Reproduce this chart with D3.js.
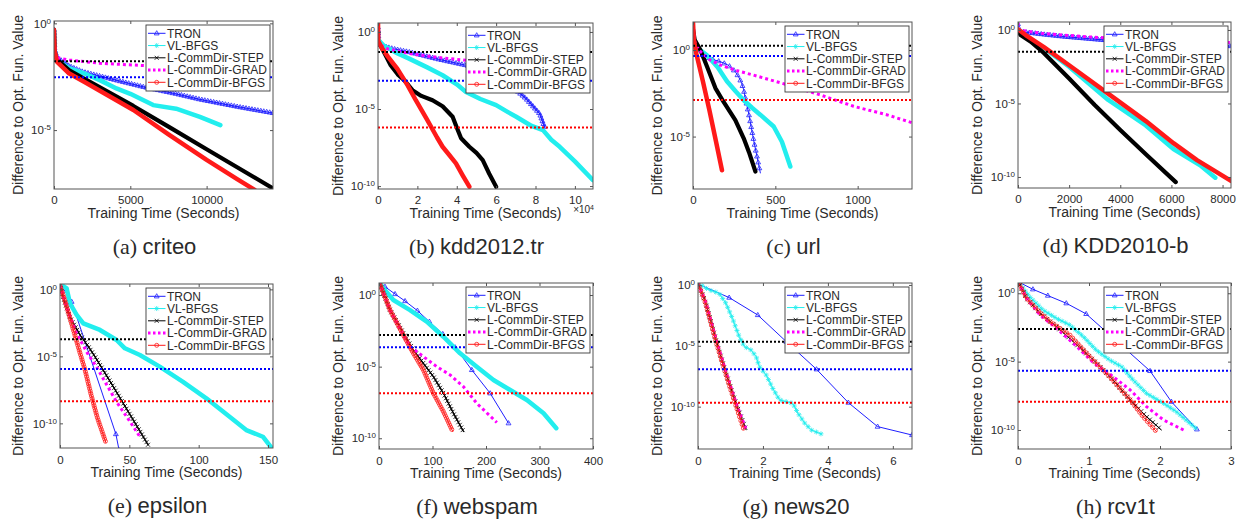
<!DOCTYPE html>
<html lang="en">
<head>
<meta charset="UTF-8">
<title>Difference to Opt. Fun. Value vs Training Time</title>
<style>
  body { margin: 0; background: #fff; }
  svg text { font-family: 'Liberation Sans', Arial, Helvetica, sans-serif; fill: #2a2a2a; }
  .tag { font-family: 'Liberation Serif', 'Times New Roman', serif; }
</style>
<script src="https://cdnjs.cloudflare.com/ajax/libs/d3/7.8.5/d3.min.js"></script>
</head>
<body>
<script>

// ---- data (times in seconds, values as log10 of the difference) ----

var datasets = ['criteo', 'kdd2012.tr', 'url', 'KDD2010-b', 'epsilon', 'webspam', 'news20', 'rcv1t'];
var tags = ['(a)', '(b)', '(c)', '(d)', '(e)', '(f)', '(g)', '(h)'];
var methods = ['TRON', 'VL-BFGS', 'L-CommDir-STEP', 'L-CommDir-GRAD', 'L-CommDir-BFGS'];

var xMax = [14350, 109200, 1330, 8330, 153.6, 400, 6.59, 3];
var yLog = [[-7.76, 0.11], [-10.19, 0.58], [-8.03, 1.62], [-10.75, 0.54],
            [-11.84, 0.4], [-10.75, 0.84], [-13.48, 0.16], [-11.39, 0.75]];
var xTicks = [[0, 5000, 10000], [0, 20000, 40000, 60000, 80000, 100000], [0, 500, 1000],
              [0, 2000, 4000, 6000, 8000], [0, 50, 100, 150], [0, 100, 200, 300, 400],
              [0, 2, 4, 6], [0, 1, 2, 3]];
var yTicks = [[0, -5], [0, -5, -10], [0, -5], [0, -5, -10],
              [0, -5, -10], [0, -5, -10], [0, -5, -10], [0, -5, -10]];

// dotted reference levels: black, blue, red (null = not shown)
var refLines = [[-1.77, -2.53, null], [-1.3, -3.17, -6.2], [0.25, -0.35, -2.88], [-1.48, null, null],
                [-3.73, -5.95, -8.36], [-2.79, -3.65, -6.86], [-4.66, -6.93, -9.67], [-2.61, -5.66, -7.93]];

var tron = [
  [[0, -0.3], [40, -1.2], [200, -1.6], [1000, -2.0], [1900, -2.27], [4000, -2.65], [6000, -3.0], [8000, -3.3], [9560, -3.56], [12000, -3.9], [14350, -4.2]],
  [[0, 0.3], [400, -0.7], [1400, -0.86], [8000, -1.1], [15800, -1.3], [30000, -1.75], [44700, -2.16], [52000, -2.45], [60000, -2.85], [65000, -3.3], [70200, -3.78], [75000, -4.3], [78700, -4.82], [82100, -5.3], [84700, -6.2]],
  [[0, 0.6], [20, 0.2], [65, -0.4], [120, -0.55], [166, -0.67], [210, -0.85], [237, -1.05], [260, -1.3], [277, -1.55], [295, -1.9], [308, -2.3], [320, -2.9], [338, -3.65], [368, -5.2], [409, -7.1]],
  [[0, 0.4], [30, -0.1], [1000, -0.3], [1800, -0.45], [3340, -0.68], [5000, -0.85], [8330, -1.1]],
  [[0, 0.45], [8.4, -0.92], [40.3, -10.8], [42.6, -12.0]],
  [[0, 0.93], [11.2, 0.58], [30, 0.07], [48.7, -0.42], [71.8, -1.09], [94.2, -1.86], [119.2, -2.72], [142.3, -3.65], [173.5, -5.23], [207.8, -6.86], [242.1, -8.95]],
  [[0, 0.08], [0.96, -1.04], [1.84, -2.47], [2.72, -4.66], [3.65, -6.93], [4.63, -9.67], [5.53, -11.64], [6.59, -12.33]],
  [[0, 0.85], [0.21, 0.29], [0.42, -0.17], [0.68, -0.73], [0.96, -1.51], [1.86, -5.68], [2.16, -7.93], [2.52, -9.95]]
];

var vlbfgs = [
  [[0, -0.3], [40, -1.3], [200, -1.75], [1000, -2.1], [2000, -2.35], [3000, -2.66], [4090, -3.05], [5000, -3.3], [6500, -3.83], [8000, -4.0], [9560, -4.38], [10900, -4.77]],
  [[0, -0.5], [3000, -0.9], [10000, -1.4], [15800, -1.73], [25000, -2.3], [32800, -2.81], [40000, -3.4], [44700, -3.89], [52000, -4.35], [60000, -4.75], [66000, -5.2], [70200, -5.5], [78000, -6.1], [83800, -6.37], [88000, -7.0], [92300, -7.45], [100000, -8.4], [109200, -9.62]],
  [[0, 0.5], [30, 0.1], [85, -0.3], [150, -1.0], [206, -1.8], [260, -2.4], [308, -2.9], [360, -3.35], [410, -3.75], [490, -4.42], [540, -5.3], [591, -6.73]],
  [[0, 0], [300, -0.45], [1000, -1.2], [2000, -2.5], [3530, -4.76], [5000, -6.5], [6080, -8.1], [7126, -9.2], [7715, -10.05]],
  [[0, 0.4], [4.8, 0.07], [7.2, -1.04], [12, -1.9], [16.8, -2.54], [28.8, -3.03], [40.8, -3.78], [46.8, -4.4], [57.6, -4.9], [71.9, -5.77], [88.7, -6.9], [105.5, -8.13], [122.3, -9.5], [134.3, -10.5], [146.3, -11.0], [152.3, -11.8]],
  [[0, 0.93], [8.1, 0.47], [26.8, -0.35], [58, -1.05], [89.2, -1.86], [120.4, -2.91], [151.6, -4.07], [182.8, -5.0], [214, -5.93], [245.2, -6.63], [276.4, -7.33], [307.6, -8.26], [331.4, -9.3]],
  [[0, 0.14], [0.34, -0.41], [0.65, -0.68], [0.86, -1.51], [1.06, -2.74], [1.27, -4.25], [1.43, -5.07], [1.63, -5.34], [1.79, -5.89], [1.89, -6.71], [2.1, -7.4], [2.3, -8.49], [2.51, -9.45], [2.72, -9.59], [2.92, -9.73], [3.08, -10.55], [3.29, -11.37], [3.49, -11.92], [3.8, -12.25]],
  [[0, 0.85], [0.16, -0.24], [0.35, -1.22], [0.54, -1.83], [0.73, -2.32], [0.92, -3.17], [1.1, -4.15], [1.29, -4.88], [1.46, -5.37], [1.62, -6.34], [1.81, -7.32], [2.05, -8.05], [2.23, -8.66], [2.52, -9.95]]
];

var step = [
  [[0, -0.3], [40, -1.3], [200, -1.7], [1000, -2.2], [2000, -2.6], [5200, -3.87], [7500, -4.84], [10000, -5.9], [12500, -6.95], [14350, -7.73]],
  [[0, -0.6], [3000, -1.3], [6460, -2.16], [10000, -2.75], [13300, -3.13], [17500, -3.78], [22000, -4.15], [27700, -4.43], [32800, -4.82], [37900, -5.5], [40000, -6.2], [42200, -6.9], [46400, -7.45], [50000, -7.85], [53200, -8.32], [56500, -9.2], [60000, -10.04]],
  [[0, 1.2], [10, 0.6], [45, 0], [85, -0.95], [136, -2.2], [186, -3.0], [257, -4.05], [308, -5.1], [340, -5.9], [379, -7.02]],
  [[0, 0], [100, -0.35], [500, -0.8], [1000, -1.55], [2000, -3.3], [3000, -5.1], [4000, -6.8], [5000, -8.45], [6170, -10.35]],
  [[0, 0.3], [3, -0.8], [7.2, -2.1], [14.4, -3.4], [20, -4.2], [25.2, -5.02], [38.4, -7.26], [52.8, -9.75], [63.5, -11.6]],
  [[0, 0.93], [20.6, -1.05], [45.6, -2.67], [64.3, -3.84], [83, -4.77], [101.7, -5.7], [120.4, -6.86], [139.2, -8.26], [157.9, -9.53]],
  [[0, 0.14], [0.24, -1.5], [0.55, -4.52], [0.86, -7.26], [1.17, -9.73], [1.48, -11.9]],
  [[0, 0.85], [0.12, -0.37], [0.31, -1.46], [0.54, -2.44], [0.78, -3.54], [1.06, -4.88], [1.34, -6.34], [1.58, -7.8], [1.81, -9.02], [2.02, -10.0]]
];

var grad = [
  [[0, -0.25], [40, -1.0], [150, -1.6], [1000, -1.72], [3000, -1.87], [7000, -2.02], [14350, -2.23]],
  [[0, 0.6], [400, -0.8], [5000, -1.1], [15800, -1.4], [30000, -1.65], [44700, -1.84], [60000, -2.0], [80000, -2.2]],
  [[0, 1.6], [10, 0.5], [35, 0], [100, -0.55], [166, -0.87], [270, -1.2], [368, -1.45], [570, -2.0], [775, -2.6], [975, -3.25], [1180, -3.75], [1330, -4.2]],
  [[0, 0.5], [30, 0], [1000, -0.25], [3000, -0.5], [6000, -0.72], [8330, -0.86]],
  [[0, 0.3], [5, -1.4], [12, -3.3], [20, -4.8], [26.4, -5.8], [33, -7.0], [40.8, -8.4], [50, -9.8], [57.6, -11.0]],
  [[0, 0.93], [20.6, -1.05], [45.6, -2.8], [58, -3.6], [83, -4.3], [108, -5.0], [132.9, -5.58], [157.9, -6.4], [182.8, -7.56], [220.3, -8.9]],
  [[0, 0.14], [0.25, -1.5], [0.56, -4.5], [0.87, -7.2], [1.18, -9.75], [1.5, -12.0]],
  [[0, 0.85], [0.12, -0.37], [0.31, -1.59], [0.54, -2.56], [0.78, -3.66], [1.06, -5.07], [1.34, -6.1], [1.58, -7.07], [1.81, -8.29], [2.05, -9.27], [2.35, -10.05]]
];

var bfgs = [
  [[0, -0.3], [40, -1.3], [200, -1.8], [1000, -2.35], [2000, -2.75], [5200, -4.06], [7500, -5.2], [10000, -6.4], [12000, -7.3], [13150, -7.8]],
  [[0, 0.6], [150, -0.6], [2000, -1.05], [5000, -1.6], [9860, -2.4], [15000, -3.45], [19200, -4.43], [25000, -5.7], [30000, -6.85], [32800, -7.45], [36000, -7.95], [39600, -8.53], [43000, -9.3], [46400, -10.04]],
  [[0, 1.6], [5, 0.6], [20, -0.2], [60, -1.8], [100, -3.5], [140, -5.3], [176, -6.95]],
  [[0, 0.05], [300, -0.35], [1000, -1.15], [2000, -2.4], [3860, -4.76], [5000, -6.2], [6080, -7.7], [7000, -8.85], [8330, -10.27]],
  [[0, 0.3], [4, -1.0], [9, -2.8], [14, -4.6], [18, -6.0], [22.5, -7.9], [27, -9.6], [33.1, -11.44]],
  [[0, 0.93], [20.6, -1.05], [45.6, -2.8], [64.3, -4.07], [83, -5.23], [101.7, -6.86], [120.4, -8.14], [137.9, -9.53]],
  [[0, 0.14], [0.23, -1.5], [0.54, -4.55], [0.85, -7.3], [1.15, -9.8], [1.4, -11.8]],
  [[0, 0.85], [0.12, -0.37], [0.31, -1.41], [0.45, -2.07], [0.73, -3.05], [1.01, -4.63], [1.29, -6.1], [1.58, -7.8], [1.76, -9.02], [1.95, -10.12]]
];

// ---- layout and looks ----

var boxes = [
  { l: 54, r: 273, t: 21, b: 189, lab: 18 },
  { l: 378, r: 593, t: 23, b: 189, lab: 338 },
  { l: 693, r: 912, t: 22, b: 189, lab: 657 },
  { l: 1018, r: 1231, t: 22, b: 188, lab: 977 },
  { l: 60, r: 273, t: 284, b: 448, lab: 18 },
  { l: 379, r: 593, t: 283, b: 449, lab: 338 },
  { l: 698, r: 912, t: 283, b: 449, lab: 657 },
  { l: 1018, r: 1231, t: 283, b: 449, lab: 977 }
];

var look = [
  { color: '#1f1fff', mark: 'tri' },
  { color: '#22eeee', mark: 'star' },
  { color: '#000000', mark: 'x' },
  { color: '#ff00ff', mark: null, dash: '3,3' },
  { color: '#ff1a1a', mark: 'circle' }
];

// per panel, per method: [stroke width, marker gap in px along the path]
// gap 0 = no markers, -1 = marker at each recorded point
var drawing = [
  [[1.2, 3], [4.5, 0], [4.2, 0], [3, 0], [4.5, 0]],
  [[1.2, 3], [4.5, 0], [4.2, 0], [3, 0], [4.5, 0]],
  [[1, 6], [4.5, 0], [4.2, 0], [3, 0], [4.5, 0]],
  [[1.2, 3], [4.5, 0], [4.2, 0], [3, 0], [4.5, 0]],
  [[1, -1], [4.5, 0], [1.2, 3], [3, 0], [1, 2.5]],
  [[1, -1], [4.5, 0], [1.2, 3], [3, 0], [1, 2.5]],
  [[1, -1], [1, 5], [1, 4], [3, 0], [1, 4]],
  [[1, -1], [1, 4], [1, 4], [3, 0], [1, 4]]
];

var refColors = ['#000000', '#0000ff', '#ff0000'];
var axisColor = '#555';

var svg = d3.select('body').append('svg')
  .attr('width', 1243)
  .attr('height', 521);

function addMarker(sel, type, color, px, py) {
  if (!type) return;
  if (type === 'circle') {
    sel.append('circle').attr('cx', px).attr('cy', py).attr('r', 2)
      .attr('fill', 'none').attr('stroke', color).attr('stroke-width', 0.8);
    return;
  }
  var d = {
    tri: 'M0,-2.6L2.4,1.6L-2.4,1.6Z',
    x: 'M-2,-2L2,2M2,-2L-2,2',
    star: 'M-2.5,0H2.5M0,-2.5V2.5M-1.8,-1.8L1.8,1.8M1.8,-1.8L-1.8,1.8'
  }[type];
  sel.append('path').attr('d', d).attr('transform', 'translate(' + px + ',' + py + ')')
    .attr('fill', 'none').attr('stroke', color).attr('stroke-width', 0.8);
}

var allSeries = [tron, vlbfgs, step, grad, bfgs];

boxes.forEach(function (box, p) {
  var x = d3.scaleLinear().domain([0, xMax[p]]).range([box.l, box.r]);
  var y = d3.scaleLog().domain([Math.pow(10, yLog[p][0]), Math.pow(10, yLog[p][1])]).range([box.b, box.t]);
  var g = svg.append('g');

  g.append('clipPath').attr('id', 'clip' + p)
    .append('rect')
    .attr('x', box.l).attr('y', box.t)
    .attr('width', box.r - box.l).attr('height', box.b - box.t);

  var plot = g.append('g').attr('clip-path', 'url(#clip' + p + ')');

  var line = d3.line()
    .x(function (d) { return x(d[0]); })
    .y(function (d) { return y(Math.pow(10, d[1])); });

  // curves
  allSeries.forEach(function (series, m) {
    var pts = series[p];
    var st = look[m];
    var rd = drawing[p][m];
    var path = plot.append('path')
      .datum(pts)
      .attr('d', line)
      .attr('fill', 'none')
      .attr('stroke', st.color)
      .attr('stroke-width', rd[0])
      .attr('stroke-linejoin', 'round')
      .attr('stroke-linecap', st.dash ? 'butt' : 'round');
    if (st.dash) path.attr('stroke-dasharray', st.dash);

    var spots = [];
    if (rd[1] < 0) {
      spots = pts.map(function (d) { return [x(d[0]), y(Math.pow(10, d[1]))]; });
    } else if (rd[1] > 0) {
      var node = path.node();
      var len = node.getTotalLength();
      for (var s = 0; s <= len; s += rd[1]) {
        var q = node.getPointAtLength(s);
        spots.push([q.x, q.y]);
      }
    }
    spots.forEach(function (s) { addMarker(plot, st.mark, st.color, s[0], s[1]); });
  });

  // dotted reference levels
  refLines[p].forEach(function (v, k) {
    if (v === null) return;
    plot.append('line')
      .attr('x1', box.l).attr('x2', box.r)
      .attr('y1', y(Math.pow(10, v))).attr('y2', y(Math.pow(10, v)))
      .attr('stroke', refColors[k])
      .attr('stroke-width', 2)
      .attr('stroke-dasharray', '2,2');
  });

  // box
  g.append('rect')
    .attr('x', box.l).attr('y', box.t)
    .attr('width', box.r - box.l).attr('height', box.b - box.t)
    .attr('fill', 'none').attr('stroke', axisColor).attr('stroke-width', 1);

  var yVals = yTicks[p].map(function (e) { return Math.pow(10, e); });

  // axes (inward ticks on all four sides)
  var xFmt = p === 1 ? function (d) { return d / 1e4; } : d3.format('d');
  var bottom = g.append('g')
    .attr('transform', 'translate(0,' + box.b + ')')
    .call(d3.axisBottom(x).tickValues(xTicks[p]).tickSize(-3).tickPadding(p < 4 ? 6.5 : 7.5).tickFormat(xFmt));
  var top = g.append('g')
    .attr('transform', 'translate(0,' + box.t + ')')
    .call(d3.axisTop(x).tickValues(xTicks[p]).tickSize(-3).tickFormat(''));
  var right = g.append('g')
    .attr('transform', 'translate(' + box.r + ',0)')
    .call(d3.axisRight(y).tickValues(yVals).tickSize(-3).tickFormat(''));
  var left = g.append('g')
    .attr('transform', 'translate(' + box.l + ',0)')
    .call(d3.axisLeft(y).tickValues(yVals).tickSize(-3).tickPadding(3).tickFormat(function () { return ''; }));

  [bottom, top, right, left].forEach(function (a) {
    a.select('.domain').remove();
    a.attr('font-size', 11.5).attr('color', axisColor);
    a.selectAll('.tick text').style('fill', '#2a2a2a');
  });

  left.selectAll('.tick text').each(function (d) {
    var t = d3.select(this);
    t.append('tspan').text('10');
    t.append('tspan').attr('dy', '-0.5em').attr('font-size', '8px')
      .text(String(Math.round(Math.log10(d))));
  });

  if (p === 1) {
    var mult = g.append('text')
      .attr('x', box.r + 1).attr('y', box.b + 24)
      .attr('text-anchor', 'end')
      .attr('font-size', '10px');
    mult.append('tspan').text('\u00d710');
    mult.append('tspan').attr('dy', '-0.5em').attr('font-size', '7px').text('4');
  }

  // axis titles
  g.append('text')
    .attr('x', (box.l + box.r) / 2).attr('y', box.b + 29)
    .attr('text-anchor', 'middle')
    .attr('font-size', '14px')
    .text('Training Time (Seconds)');

  g.append('text')
    .attr('transform', 'translate(' + box.lab + ',' + (box.t + box.b) / 2 + ') rotate(-90)')
    .attr('text-anchor', 'middle')
    .attr('dy', '0.35em')
    .attr('font-size', '14px')
    .text('Difference to Opt. Fun. Value');

  // legend
  var lx = box.r - 3 - 124;
  var ly = box.t + 4;
  var legend = g.append('g').attr('transform', 'translate(' + lx + ',' + ly + ')');
  legend.append('rect')
    .attr('width', 124).attr('height', 66)
    .attr('fill', '#fff').attr('stroke', '#3a3a3a').attr('stroke-width', 0.9);

  methods.forEach(function (name, m) {
    var st = look[m];
    var ry = 8.3 + m * 12.25;
    var sample = legend.append('line')
      .attr('x1', 2).attr('x2', 19.5).attr('y1', ry).attr('y2', ry)
      .attr('stroke', st.color)
      .attr('stroke-width', st.dash ? 3 : 1);
    if (st.dash) sample.attr('stroke-dasharray', '2.5,2.5');
    addMarker(legend, st.mark, st.color, 10.7, ry);
    legend.append('text')
      .attr('x', 21).attr('y', ry).attr('dy', '0.35em')
      .attr('font-size', '12px')
      .text(name);
  });

  // caption
  var cap = svg.append('text')
    .attr('x', (box.l + box.r) / 2 - 9)
    .attr('y', box.b + 65)
    .attr('text-anchor', 'middle')
    .attr('font-size', '22px');
  cap.append('tspan').attr('class', 'tag').text(tags[p] + ' ');
  cap.append('tspan').text(datasets[p]);
});

</script>
</body>
</html>
